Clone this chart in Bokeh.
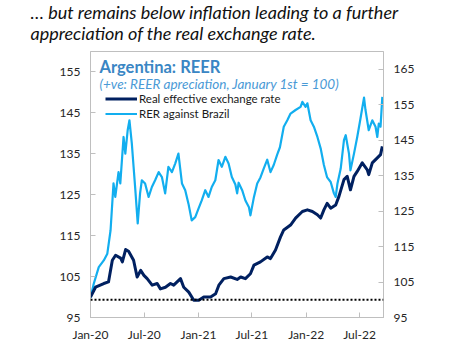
import pandas as pd
from bokeh.plotting import figure
from bokeh.layouts import column
from bokeh.core.properties import value
from bokeh.models import (Range1d, LinearAxis, FixedTicker, DatetimeTickFormatter,
                          Label, Legend, LegendItem, Span)
from bokeh.embed import file_html
from bokeh.resources import INLINE

# ---------------- data ----------------
reer_dates = ["2020-01-01", "2020-01-18", "2020-02-15", "2020-03-02", "2020-03-15", "2020-03-26",
              "2020-04-12", "2020-04-18", "2020-04-29", "2020-05-09", "2020-05-26", "2020-06-07",
              "2020-06-19", "2020-06-30", "2020-07-11", "2020-07-28", "2020-08-14", "2020-08-25",
              "2020-09-11", "2020-09-28", "2020-10-09", "2020-11-01", "2020-11-12", "2020-11-29",
              "2020-12-16", "2021-01-02", "2021-01-19", "2021-02-11", "2021-02-28", "2021-03-11",
              "2021-03-28", "2021-04-20", "2021-05-12", "2021-05-24", "2021-06-09", "2021-06-26",
              "2021-07-08", "2021-07-30", "2021-08-22", "2021-09-02", "2021-09-19", "2021-10-06",
              "2021-10-17", "2021-11-09", "2021-11-26", "2021-12-19", "2022-01-05", "2022-01-22",
              "2022-02-08", "2022-02-19", "2022-03-02", "2022-03-13", "2022-03-25", "2022-04-11",
              "2022-04-22", "2022-05-09", "2022-05-20", "2022-05-31", "2022-06-12", "2022-06-23",
              "2022-07-10", "2022-07-27", "2022-08-01", "2022-08-13", "2022-08-30", "2022-09-10",
              "2022-09-16"]
reer_values = [100.0, 102.4, 103.3, 103.7, 109.0, 110.2,
               109.5, 108.6, 111.6, 111.2, 109.0, 104.9,
               106.5, 105.3, 104.5, 102.9, 103.3, 102.0,
               102.4, 103.3, 102.9, 104.5, 102.4, 101.2,
               99.2, 99.2, 100.0, 100.0, 100.8, 102.9,
               104.5, 104.9, 104.3, 104.9, 104.5, 105.7,
               107.8, 108.6, 109.8, 109.4, 111.5, 114.7,
               116.4, 117.6, 119.3, 120.9, 121.3, 120.9,
               120.1, 119.3, 121.3, 122.9, 121.7, 122.5,
               124.6, 128.7, 129.5, 126.2, 129.5, 130.7,
               132.8, 131.1, 129.9, 132.8, 134.0, 134.8,
               136.8]

brazil_dates = ["2020-01-01", "2020-01-12", "2020-01-29", "2020-02-15", "2020-02-27", "2020-03-09",
                "2020-03-19", "2020-03-25", "2020-04-05", "2020-04-11", "2020-04-22", "2020-04-28",
                "2020-05-06", "2020-05-12", "2020-05-20", "2020-05-26", "2020-06-01", "2020-06-09",
                "2020-06-17", "2020-06-23", "2020-07-04", "2020-07-16", "2020-07-27", "2020-08-07",
                "2020-08-19", "2020-08-30", "2020-09-10", "2020-09-21", "2020-10-03", "2020-10-14",
                "2020-10-25", "2020-11-06", "2020-11-17", "2020-11-28", "2020-12-09", "2020-12-21",
                "2021-01-01", "2021-01-12", "2021-01-24", "2021-02-04", "2021-02-15", "2021-02-27",
                "2021-03-10", "2021-03-21", "2021-04-02", "2021-04-13", "2021-04-24", "2021-05-06",
                "2021-05-12", "2021-05-17", "2021-05-29", "2021-06-09", "2021-06-21", "2021-06-26",
                "2021-07-08", "2021-07-19", "2021-07-30", "2021-08-10", "2021-08-22", "2021-09-02",
                "2021-09-13", "2021-09-25", "2021-10-04", "2021-10-17", "2021-10-29", "2021-11-09",
                "2021-11-26", "2021-12-13", "2021-12-19", "2021-12-30", "2022-01-05", "2022-01-16",
                "2022-01-27", "2022-02-08", "2022-02-19", "2022-03-02", "2022-03-13", "2022-03-25",
                "2022-04-05", "2022-04-11", "2022-04-17", "2022-04-28", "2022-05-09", "2022-05-15",
                "2022-05-26", "2022-05-31", "2022-06-12", "2022-06-23", "2022-07-04", "2022-07-16",
                "2022-07-21", "2022-08-01", "2022-08-13", "2022-08-24", "2022-08-30", "2022-09-04",
                "2022-09-10", "2022-09-16"]
brazil_values = [100.5, 104.5, 109.2, 111.1, 113.0, 119.6,
                 132.8, 129.0, 136.0, 132.8, 145.9, 141.2,
                 147.8, 150.6, 144.1, 137.5, 130.9, 121.5,
                 130.0, 133.7, 132.8, 129.0, 131.8, 133.7,
                 136.0, 134.6, 130.0, 137.5, 136.0, 138.4,
                 141.2, 132.8, 130.9, 127.1, 122.4, 123.3,
                 125.7, 128.0, 130.9, 129.0, 131.8, 133.7,
                 139.4, 137.5, 140.3, 138.4, 134.6, 132.5,
                 130.0, 133.0, 130.9, 128.0, 126.1, 123.8,
                 129.0, 132.8, 134.5, 137.0, 139.5, 136.0,
                 138.0, 141.0, 143.0, 148.8, 150.6, 152.5,
                 153.5, 154.4, 155.8, 154.4, 155.4, 150.6,
                 148.8, 145.9, 142.7, 138.0, 134.5, 133.2,
                 130.0, 129.0, 132.8, 137.0, 145.0, 146.4,
                 141.2, 136.5, 141.2, 145.9, 151.1, 157.0,
                 153.5, 147.8, 150.6, 148.8, 145.9, 149.7,
                 148.8, 157.2]

left_ticks = [95, 105, 115, 125, 135, 145, 155]
right_ticks = [95, 105, 115, 125, 135, 145, 155, 165]
x_tick_dates = ["2020-01-01", "2020-07-01", "2021-01-01", "2021-07-01", "2022-01-01", "2022-07-01"]
baseline_value = 100

headline = ["\u2026 but remains below inflation leading to a further",
            "appreciation of the real exchange rate."]
chart_title = "Argentina: REER"
chart_subtitle = "(+ve: REER apreciation, January 1st = 100)"
series_names = ["Real effective exchange rate", "RER against Brazil"]

# ---------------- styling ----------------
FONT = "Lato"
NAVY = "#002060"
LIGHT = "#12AEEF"
GRID = "#BFBFBF"
TXT = "#262626"
W = 442
HEAD_H = 46

def ms(d):
    return pd.Timestamp(d).value // 10**6

# ---------------- headline strip (pixel-like coordinates, y downwards) ----------------
head = figure(width=W, height=HEAD_H, output_backend="svg", toolbar_location=None,
              x_range=Range1d(0, W), y_range=Range1d(HEAD_H, 0),
              x_axis_location=None, y_axis_location=None, min_border=0, title=None)
head.frame_align = False
head.grid.visible = False
head.outline_line_color = None
head.border_fill_color = "white"
head.text(x=[30, 30], y=[11.5, 32], text=headline,
          text_font=value(FONT), text_font_style="italic", text_font_size="18px",
          text_baseline="alphabetic", text_align="left", text_color="#111111")

# ---------------- main chart ----------------
x_start = pd.Timestamp("2020-01-01")
x_end = pd.Timestamp("2022-09-20")

p = figure(width=W, height=350 - HEAD_H, x_axis_type="datetime",
           output_backend="svg", toolbar_location=None,
           x_range=Range1d(x_start, x_end), y_range=Range1d(95, 160),
           min_border_left=90, min_border_right=59, min_border_top=51 - HEAD_H,
           min_border_bottom=33, title=None)
p.frame_align = False
p.extra_y_ranges = {"right": Range1d(95, 170)}
p.xgrid.visible = False
p.ygrid.visible = False
p.outline_line_color = GRID
p.outline_line_width = 1
p.background_fill_color = "white"
p.border_fill_color = "white"

ya = p.yaxis[0]
ya.ticker = FixedTicker(ticks=left_ticks)
yr = LinearAxis(y_range_name="right", ticker=FixedTicker(ticks=right_ticks))
p.add_layout(yr, "right")

for ax in [ya, yr]:
    ax.axis_line_color = GRID
    ax.major_tick_line_color = GRID
    ax.major_tick_in = 5
    ax.major_tick_out = 0
    ax.minor_tick_line_color = None
    ax.major_label_text_font = FONT
    ax.major_label_text_font_size = "12px"
    ax.major_label_text_color = TXT
    ax.major_label_standoff = 10

xa = p.xaxis[0]
xa.ticker = FixedTicker(ticks=[ms(d) for d in x_tick_dates])
fmt = "%b-%y"
xa.formatter = DatetimeTickFormatter(years=fmt, months=fmt, days=fmt, hours=fmt,
                                     minutes=fmt, seconds=fmt, milliseconds=fmt,
                                     microseconds=fmt, hourmin=fmt, minsec=fmt)
xa.axis_line_color = GRID
xa.major_tick_line_color = GRID
xa.major_tick_in = 5
xa.major_tick_out = 0
xa.minor_tick_line_color = None
xa.major_label_text_font = FONT
xa.major_label_text_font_size = "12px"
xa.major_label_text_color = TXT
xa.major_label_standoff = 9

p.add_layout(Span(location=baseline_value, dimension="width", y_range_name="right",
                  line_color="black", line_width=2, line_dash="2 2"))

r_braz = p.line(pd.to_datetime(brazil_dates), brazil_values, y_range_name="right",
                line_color=LIGHT, line_width=2.2, line_join="round")
r_reer = p.line(pd.to_datetime(reer_dates), reer_values,
                line_color=NAVY, line_width=3, line_join="round")

legend = Legend(items=[LegendItem(label=series_names[0], renderers=[r_reer]),
                       LegendItem(label=series_names[1], renderers=[r_braz])],
                location=(15, 196), background_fill_alpha=0, border_line_alpha=0,
                padding=0, spacing=0, margin=0, glyph_width=32, glyph_height=15,
                label_height=15, label_standoff=2, label_text_font=FONT,
                label_text_font_size="11.5px", label_text_color="#1a1a1a")
p.add_layout(legend)

p.add_layout(Label(x=9, y=251, x_units="screen", y_units="screen", text=chart_title,
                   text_font=FONT, text_font_style="bold", text_font_size="16.5px",
                   text_color="#3A86C4", text_baseline="alphabetic"))
p.add_layout(Label(x=9, y=234, x_units="screen", y_units="screen", text=chart_subtitle,
                   text_font=FONT, text_font_style="italic", text_font_size="13.5px",
                   text_color="#4A9AD6", text_baseline="alphabetic"))

layout = column(head, p, spacing=0)
open("out.html", "w").write(file_html(layout, INLINE))
